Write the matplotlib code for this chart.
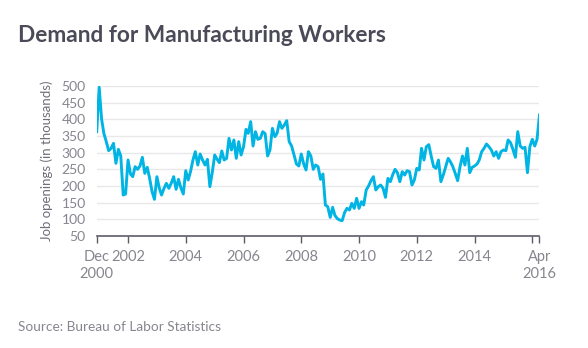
import numpy as np
import pandas as pd
import matplotlib as mpl
mpl.use("Agg")
import matplotlib.pyplot as plt

# monthly job openings, Dec 2000 .. Apr 2016 (thousands)
openings = [
    363, 496, 400, 358, 333, 306, 313, 328, 268, 310,
    290, 173, 176, 278, 236, 228, 258, 250, 260, 286,
    238, 256, 223, 183, 160, 228, 193, 173, 193, 208,
    193, 208, 228, 190, 220, 194, 176, 246, 218, 243,
    278, 303, 263, 296, 278, 263, 280, 198, 240, 293,
    280, 270, 305, 278, 283, 343, 308, 338, 283, 333,
    293, 318, 370, 358, 393, 320, 363, 340, 343, 363,
    357, 290, 308, 373, 348, 358, 393, 373, 383, 396,
    333, 320, 293, 266, 260, 296, 266, 248, 303, 290,
    250, 263, 258, 220, 236, 143, 138, 106, 136, 112,
    102, 98, 96, 120, 133, 128, 148, 133, 163, 133,
    153, 143, 188, 200, 216, 228, 188, 198, 203, 193,
    166, 223, 213, 233, 250, 240, 213, 243, 233, 246,
    243, 203, 218, 253, 248, 313, 278, 318, 324, 290,
    258, 253, 278, 213, 233, 258, 283, 273, 258, 238,
    216, 258, 290, 263, 313, 240, 256, 260, 266, 278,
    303, 313, 326, 318, 308, 290, 303, 283, 303, 308,
    306, 338, 330, 310, 286, 363, 320, 313, 316, 240,
    318, 340, 320, 340, 413,
]
months = pd.date_range("2000-12-01", periods=len(openings), freq="MS")

y_ticks = [50, 100, 150, 200, 250, 300, 350, 400, 450, 500]
x_tick_dates = ["2000-12-01", "2002-01-01", "2004-01-01", "2006-01-01", "2008-01-01",
                "2010-01-01", "2012-01-01", "2014-01-01", "2016-01-01", "2016-04-01"]
x_tick_labels = ["Dec\n2000", "2002", "2004", "2006", "2008",
                 "2010", "2012", "2014", "", "Apr\n2016"]

plt.rcParams["font.family"] = ["Lato", "DejaVu Sans"]

LINE = "#00b4e4"
DARK = "#4a4a58"
GREY = "#86868f"

fig = plt.figure(figsize=(5.88, 3.48), dpi=100)
ax = fig.add_axes([0.1645, 0.3218, 0.7530, 0.4311])

ax.plot(months, openings, color=LINE, lw=2.1, solid_joinstyle="round", zorder=3)

ax.set_ylim(50, 500)
ax.set_xlim(months[0], months[-1])
ax.set_yticks(y_ticks)
ax.set_yticklabels([str(v) for v in y_ticks])
ax.set_xticks(pd.to_datetime(x_tick_dates))
ax.set_xticklabels(x_tick_labels, linespacing=1.25)

for v in y_ticks[1:]:
    ax.axhline(v, color="#e8e8ea", lw=1, zorder=1)

for s in ["top", "right", "left"]:
    ax.spines[s].set_visible(False)
ax.spines["bottom"].set_color("#5c5c6a")
ax.spines["bottom"].set_linewidth(1.2)
ax.spines["bottom"].set_zorder(4)

ax.tick_params(axis="y", length=0, pad=8, labelsize=10, labelcolor=GREY)
ax.tick_params(axis="x", length=5, width=1, color="#5c5c6a", pad=5,
               labelsize=10.5, labelcolor=GREY)
ax.set_ylabel("Job openings (in thousands)", color="#6e6e7a", fontsize=9.5, labelpad=6)

fig.text(18 / 588, 1 - 36 / 348, "Demand for Manufacturing Workers",
         fontsize=16.3, fontweight="bold", color=DARK, va="center", ha="left")
fig.text(18 / 588, 1 - 327 / 348, "Source: Bureau of Labor Statistics",
         fontsize=9.8, color=GREY, va="center", ha="left")

fig.savefig("out.png", dpi=100)
